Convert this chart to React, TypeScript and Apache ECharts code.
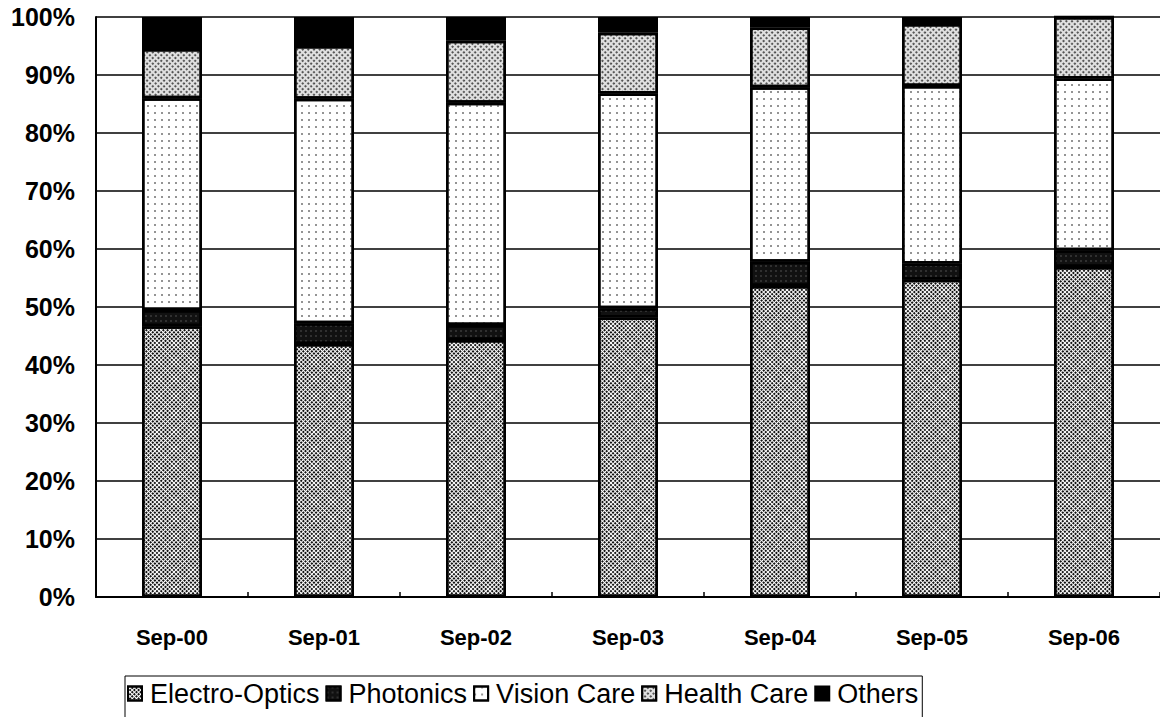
import React, { useEffect, useRef } from "react";
import * as echarts from "echarts";

const categories = ["Sep-00", "Sep-01", "Sep-02", "Sep-03", "Sep-04", "Sep-05", "Sep-06"];
const electroOptics = [46.7, 43.6, 44.3, 48.2, 53.6, 54.7, 56.9];
const photonics = [2.8, 3.6, 2.6, 1.6, 4.2, 2.8, 2.9];
const visionCare = [36.5, 38.7, 38.3, 37.0, 30.1, 30.6, 29.6];
const healthCare = [8.5, 9.1, 10.7, 10.5, 10.3, 10.7, 10.6];
const others = [5.5, 5.0, 4.1, 2.7, 1.8, 1.2, 0];

const FONT = "'Liberation Sans', Arial, sans-serif";

export default function App() {
  const ref = useRef<HTMLDivElement>(null);
  useEffect(() => {
    if (!ref.current) return;
    const chart = echarts.init(ref.current, undefined, { renderer: "svg" });
    const border = { borderColor: "#000", borderWidth: 2.5 };
    const mk = (name: string, data: number[], itemStyle: any) => ({
      name,
      type: "bar",
      stack: "total",
      data,
      barWidth: 60,
      itemStyle: { ...border, ...itemStyle },
      emphasis: { disabled: true },
    });
    chart.setOption({
      animation: false,
      backgroundColor: "#fff",
      grid: { left: 96, right: -4, top: 17, bottom: 120 },
      legend: {
        left: 125,
        top: 676,
        orient: "horizontal",
        icon: "rect",
        itemWidth: 14,
        itemHeight: 14,
        itemGap: 6,
        padding: [4, 4, 20, 2],
        borderColor: "#000",
        borderWidth: 1,
        textStyle: { fontFamily: FONT, fontSize: 27, color: "#000", padding: [0, 0, 0, 3] },
        data: ["Electro-Optics", "Photonics", "Vision Care", "Health Care", "Others"],
      },
      xAxis: {
        type: "category",
        data: categories,
        axisLine: { show: true, lineStyle: { color: "#000", width: 2 } },
        axisTick: { show: true, inside: true, length: 5, alignWithLabel: false, lineStyle: { color: "#000", width: 1.5 } },
        axisLabel: { margin: 29, fontFamily: FONT, fontSize: 22, fontWeight: "bold", color: "#000" },
      },
      yAxis: {
        type: "value",
        min: 0,
        max: 100,
        interval: 10,
        axisLine: { show: true, lineStyle: { color: "#000", width: 2 } },
        axisTick: { show: false },
        axisLabel: {
          margin: 21,
          formatter: "{value}%",
          fontFamily: FONT,
          fontSize: 25,
          fontWeight: "bold",
          color: "#000",
        },
        splitLine: { show: true, lineStyle: { color: "#000", width: 1.5 } },
      },
      series: [
        mk("Electro-Optics", electroOptics, {
          color: "#fff",
          decal: {
            symbol: "rect",
            symbolSize: 1,
            color: "#111",
            dashArrayX: [2, 1],
            dashArrayY: [2, 1],
            rotation: Math.PI / 4,
          },
        }),
        mk("Photonics", photonics, {
          color: "#111",
          decal: {
            symbol: "rect",
            symbolSize: 0.6,
            color: "#777",
            dashArrayX: [2, 3],
            dashArrayY: [2, 3],
          },
        }),
        mk("Vision Care", visionCare, {
          color: "#fff",
          decal: {
            symbol: "rect",
            symbolSize: 0.7,
            color: "#333",
            dashArrayX: [2, 5],
            dashArrayY: [2, 5],
          },
        }),
        mk("Health Care", healthCare, {
          color: "#e0e0e0",
          decal: {
            symbol: "circle",
            symbolSize: 0.9,
            color: "#222",
            dashArrayX: [2, 2],
            dashArrayY: [2, 2],
            rotation: Math.PI / 4,
          },
        }),
        mk("Others", others, { color: "#000" }),
      ],
    });
    return () => chart.dispose();
  }, []);
  return (
    <div
      ref={ref}
      style={{ position: "absolute", left: 0, top: 0, width: 1160, height: 717, background: "#fff" }}
    />
  );
}
